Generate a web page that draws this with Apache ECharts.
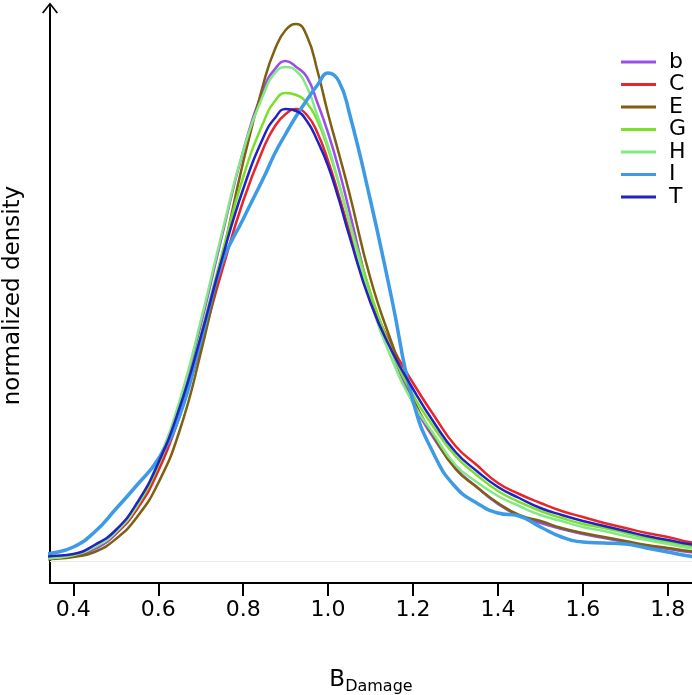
<!DOCTYPE html>
<html><head><meta charset="utf-8">
<script src="https://cdn.jsdelivr.net/npm/echarts@6/dist/echarts.min.js"></script>
<style>html,body{margin:0;padding:0;background:#fff}#c{width:692px;height:695px}</style>
</head><body><div id="c"></div>
<script>
// B_Damage sample positions
const xValues = [0.30,0.35,0.40,0.45,0.50,0.55,0.60,0.65,0.70,0.75,0.80,0.85,0.875,0.90,0.925,0.95,0.975,1.00,1.025,1.05,1.10,1.15,1.20,1.25,1.30,1.35,1.40,1.45,1.50,1.55,1.60,1.65,1.70,1.75,1.80,1.85,1.90];
// normalized density (arbitrary units, no axis labels)
const densB = [0.02,0.03,0.05,0.12,0.27,0.53,0.96,1.56,2.36,3.25,4.10,4.74,4.92,5.00,4.94,4.84,4.58,4.28,3.92,3.50,2.66,2.10,1.58,1.22,0.93,0.74,0.57,0.45,0.38,0.32,0.27,0.23,0.19,0.15,0.12,0.09,0.07];
const densC = [0.01,0.03,0.06,0.14,0.28,0.52,0.90,1.45,2.15,2.90,3.60,4.15,4.35,4.47,4.52,4.46,4.28,4.00,3.66,3.30,2.62,2.15,1.78,1.45,1.15,0.96,0.78,0.67,0.58,0.50,0.44,0.38,0.33,0.28,0.24,0.19,0.16];
const densE = [0.01,0.02,0.04,0.09,0.22,0.44,0.78,1.30,2.08,3.02,3.99,4.81,5.12,5.31,5.37,5.25,4.90,4.47,4.08,3.68,2.82,2.18,1.62,1.24,0.92,0.74,0.58,0.46,0.40,0.33,0.28,0.24,0.20,0.16,0.13,0.10,0.08];
const densG = [0.02,0.03,0.06,0.14,0.29,0.55,0.96,1.52,2.26,3.07,3.84,4.41,4.60,4.68,4.66,4.58,4.40,4.12,3.78,3.40,2.68,2.10,1.66,1.33,1.05,0.86,0.70,0.59,0.50,0.43,0.37,0.33,0.28,0.23,0.19,0.15,0.12];
const densH = [0.02,0.03,0.06,0.14,0.29,0.56,1.00,1.60,2.40,3.28,4.10,4.69,4.88,4.94,4.90,4.74,4.45,4.15,3.78,3.38,2.60,2.02,1.58,1.26,0.96,0.79,0.65,0.55,0.46,0.40,0.34,0.30,0.25,0.21,0.17,0.13,0.11];
const densI = [0.05,0.08,0.14,0.29,0.52,0.76,1.02,1.45,2.20,2.98,3.42,3.85,4.08,4.27,4.45,4.61,4.76,4.88,4.80,4.48,3.60,2.62,1.60,1.06,0.74,0.58,0.48,0.45,0.34,0.24,0.19,0.18,0.17,0.13,0.09,0.05,0.03];
const densT = [0.03,0.05,0.07,0.16,0.31,0.58,0.98,1.53,2.24,3.02,3.72,4.26,4.43,4.52,4.50,4.40,4.20,3.95,3.62,3.25,2.58,2.10,1.72,1.38,1.09,0.90,0.74,0.63,0.53,0.46,0.40,0.35,0.30,0.25,0.21,0.17,0.14];
const xTickValues = [0.4,0.6,0.8,1.0,1.2,1.4,1.6,1.8];
const seriesNames = ['b','C','E','G','H','I','T'];
const seriesData = [densB,densC,densE,densG,densH,densI,densT];
const seriesColors = ['#9a4ee6','#e8262a','#7f5f10','#7ae02c','#84e884','#3d9ae6','#2222c4'];
const seriesWidths = [2.5,2.5,2.5,2.5,2.5,3.5,2.5];

const FONT = 'DejaVu Sans';
const chart = echarts.init(document.getElementById('c'), null, {renderer:'canvas'});
const series = seriesNames.map((name, i) => ({
  name: name,
  type: 'line',
  data: xValues.map((x, j) => [x, seriesData[i][j]]),
  smooth: true,
  showSymbol: false,
  symbol: 'none',
  lineStyle: {color: seriesColors[i], width: seriesWidths[i]},
  itemStyle: {color: seriesColors[i]},
  emphasis: {disabled: true},
  z: 3
}));
series[0].markLine = {
  silent: true, symbol: 'none', label: {show: false},
  lineStyle: {color: '#e6eaea', width: 1, type: 'solid'},
  data: [{yAxis: 0}], z: 1
};
chart.setOption({
  animation: false,
  backgroundColor: '#fff',
  grid: {left: 50, right: 0, top: 8, bottom: 112, containLabel: false, outerBoundsMode: 'none'},
  legend: {
    data: seriesNames, orient: 'vertical', left: 616, top: 46,
    icon: 'rect', itemWidth: 35, itemHeight: 3, itemGap: 0.5,
    textStyle: {fontFamily: FONT, fontSize: 22, lineHeight: 22, color: '#000', padding: [0,0,0,8]}
  },
  xAxis: {
    type: 'value', min: 0.345, max: 1.857,
    axisLine: {show: true, onZero: false, lineStyle: {color: '#000', width: 2}},
    axisTick: {show: true, customValues: xTickValues, length: 13, lineStyle: {color: '#000', width: 2}},
    axisLabel: {show: true, customValues: xTickValues, formatter: v => v.toFixed(1), fontFamily: FONT, fontSize: 22, color: '#000', margin: 16},
    splitLine: {show: false},
    name: '{b|B}{s|Damage}', nameLocation: 'middle', nameGap: 82,
    nameTextStyle: {rich: {
      b: {fontFamily: FONT, fontSize: 23, color: '#000', lineHeight: 30, verticalAlign: 'middle'},
      s: {fontFamily: FONT, fontSize: 16, color: '#000', lineHeight: 16, verticalAlign: 'bottom'}
    }}
  },
  yAxis: {
    type: 'value', min: -0.22, max: 5.53,
    axisLine: {show: true, onZero: false,
      symbol: ['none', 'path://M0,10 L8,0 L16,10 L14.6,11 L8.8,3.6 L8.8,11 L7.2,11 L7.2,3.6 L1.4,11 Z'],
      symbolSize: [16, 12],
      lineStyle: {color: '#000', width: 2}},
    axisTick: {show: false}, axisLabel: {show: false}, splitLine: {show: false},
    name: 'normalized density', nameLocation: 'middle', nameGap: 25, nameRotate: 90,
    nameTextStyle: {fontFamily: FONT, fontSize: 23, color: '#000'}
  },
  series: series
});
</script></body></html>
